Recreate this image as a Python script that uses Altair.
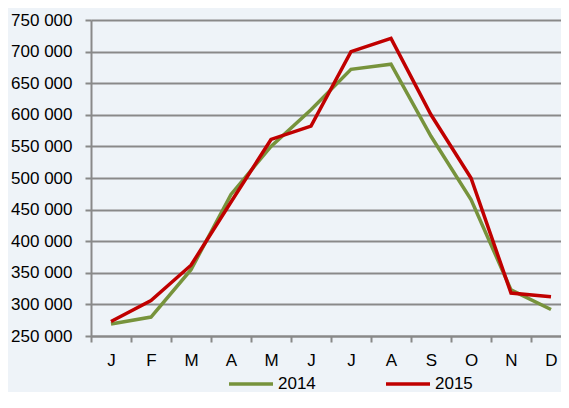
import altair as alt
import pandas as pd

months = ["J", "F", "M", "A", "M", "J", "J", "A", "S", "O", "N", "D"]
series_2014 = [269000, 280000, 355000, 474000, 550000, 608000, 672000, 680000, 566000, 466000, 323000, 292000]
series_2015 = [273000, 306000, 362000, 462000, 561000, 582000, 700000, 721000, 600000, 500000, 318000, 312000]
y_ticks = [250000, 300000, 350000, 400000, 450000, 500000, 550000, 600000, 650000, 700000, 750000]

rows = []
for name, vals in (("2014", series_2014), ("2015", series_2015)):
    for i, v in enumerate(vals):
        rows.append({"pos": i + 0.5, "month": months[i], "value": v, "series": name})
df = pd.DataFrame(rows)

FONT = "Liberation Sans, Arial, sans-serif"
FS = 17
GRAY = "#898989"
W = 470
H = 316
STEP = 40.0

month_expr = "[" + ",".join("'%s'" % m for m in months) + "][datum.value]"

chart = alt.Chart(df).mark_line(strokeWidth=3.5).encode(
    x=alt.X(
        "pos:Q",
        scale=alt.Scale(domain=[0, W / STEP], nice=False, zero=False),
        axis=alt.Axis(
            values=list(range(12)),
            labelExpr=month_expr,
            labelOffset=STEP / 2,
            labelFlush=False,
            labelOverlap=False,
            labelBound=False,
            grid=False,
            tickSize=6,
            tickColor=GRAY,
            tickWidth=2,
            domainColor=GRAY,
            domainWidth=2,
            labelPadding=10,
            labelFontSize=FS,
            labelFont=FONT,
            labelColor="#000000",
            title=None,
        ),
    ),
    y=alt.Y(
        "value:Q",
        scale=alt.Scale(domain=[250000, 750000], nice=False, zero=False),
        axis=alt.Axis(
            values=y_ticks,
            labelExpr="format(floor(datum.value/1000),'d') + ' 000'",
            grid=True,
            gridColor=GRAY,
            gridWidth=2,
            tickSize=6,
            tickColor=GRAY,
            tickWidth=2,
            domainColor=GRAY,
            domainWidth=2,
            labelPadding=13,
            labelFontSize=FS,
            labelFont=FONT,
            labelColor="#000000",
            title=None,
        ),
    ),
    color=alt.Color(
        "series:N",
        scale=alt.Scale(domain=["2014", "2015"], range=["#77933C", "#C00000"]),
        legend=alt.Legend(
            title=None,
            orient="none",
            legendX=136,
            legendY=340,
            direction="horizontal",
            symbolType="stroke",
            symbolSize=1936,
            symbolStrokeWidth=3.5,
            labelFontSize=FS,
            labelFont=FONT,
            labelColor="#000000",
            labelOffset=3,
            columnPadding=63,
        ),
    ),
    order=alt.Order("pos:Q"),
).properties(
    width=W,
    height=H,
    background="#EEF3F8",
    autosize=alt.AutoSizeParams(type="none"),
    padding={"left": 83, "top": 12, "right": 0, "bottom": 56},
).configure_view(strokeWidth=0)

chart.save("out.html", embed_options={"renderer": "svg", "actions": False})
